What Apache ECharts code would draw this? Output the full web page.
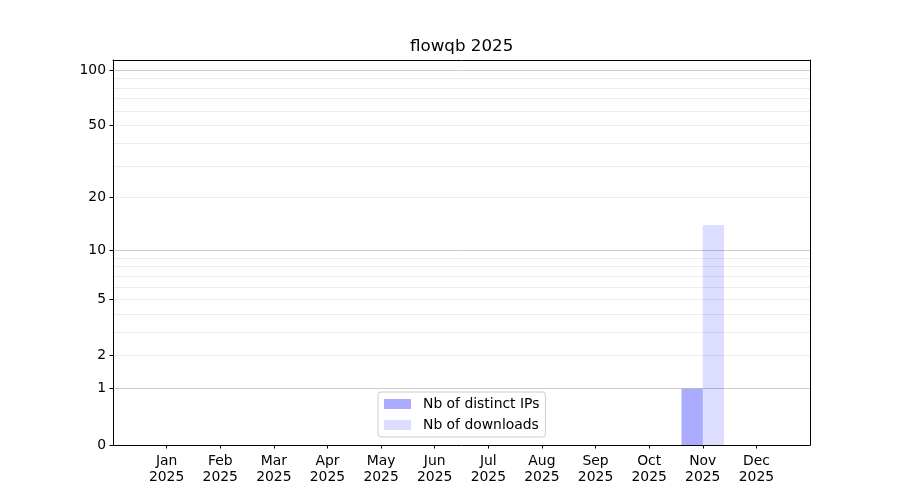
<!DOCTYPE html>
<html>
<head>
<meta charset="utf-8">
<script src="https://cdn.jsdelivr.net/npm/echarts@6/dist/echarts.min.js"></script>
<style>html,body{margin:0;padding:0;background:#fff}#c{width:900px;height:500px}</style>
</head>
<body>
<div id="c"></div>
<script>
const title = 'flowqb 2025';
const months = ['Jan','Feb','Mar','Apr','May','Jun','Jul','Aug','Sep','Oct','Nov','Dec'];
const yearLabel = '2025';
const ips = [0,0,0,0,0,0,0,0,0,0,1,0];
const downloads = [0,0,0,0,0,0,0,0,0,0,14,0];
const yTickValues = [0,1,2,5,10,20,50,100];
const majorGridValues = [1,10,100];
const minorGridValues = [2,3,4,5,6,7,8,9,20,30,40,50,60,70,80,90];
const yMaxRaw = 113.2;

const tf = v => Math.log10(1 + v);
const inv = t => Math.round(Math.pow(10, t) - 1);
const FONT = 'DejaVu Sans';
const yMax = tf(yMaxRaw);
const monthIdx = months.map((m, i) => i);

function hiddenY(vals, color, position, showLine) {
  return {
    type: 'value', min: 0, max: yMax, position: position,
    axisLine: {show: showLine, onZero: false, lineStyle: {color: '#000', width: 1}},
    axisLabel: {show: false},
    axisTick: {show: false, customValues: vals.map(tf)},
    splitLine: {show: true, lineStyle: {color: color, width: 1}}
  };
}

const chart = echarts.init(document.getElementById('c'), null, {renderer: 'canvas'});
chart.setOption({
  animation: false,
  backgroundColor: '#fff',
  textStyle: {fontFamily: FONT},
  title: {
    text: title, left: 410, top: 38, padding: 0,
    textStyle: {fontFamily: FONT, fontSize: 16.7, fontWeight: 'normal', color: '#000'}
  },
  grid: {left: 113, right: 90, top: 60, bottom: 55, show: false},
  legend: {
    orient: 'vertical', left: 378, top: 392,
    padding: [5, 6, 5, 6], itemGap: 7, itemWidth: 27, itemHeight: 10,
    icon: 'rect', borderColor: '#cccccc', borderWidth: 1, borderRadius: 3,
    backgroundColor: 'rgba(255,255,255,0.8)',
    textStyle: {fontFamily: FONT, fontSize: 13.9, color: '#000', lineHeight: 14, padding: [0, 0, 0, 7]},
    data: ['Nb of distinct IPs', 'Nb of downloads']
  },
  xAxis: [
    {
      type: 'value', min: -1, max: 12, interval: 1, position: 'bottom',
      axisLine: {show: true, onZero: false, lineStyle: {color: '#000', width: 1}},
      axisTick: {show: true, length: 3.5, customValues: monthIdx, lineStyle: {color: '#000'}},
      axisLabel: {
        customValues: monthIdx, margin: 9, color: '#000', fontFamily: FONT, fontSize: 13.9, lineHeight: 15.5,
        formatter: v => (months[v] !== undefined ? months[v] + '\n' + yearLabel : '')
      },
      splitLine: {show: false}
    },
    {
      type: 'value', min: -1, max: 12, interval: 1, position: 'top',
      axisLine: {show: true, onZero: false, lineStyle: {color: '#000', width: 1}},
      axisTick: {show: false}, axisLabel: {show: false}, splitLine: {show: false}
    }
  ],
  yAxis: [
    {
      type: 'value', min: 0, max: yMax, position: 'left',
      axisLine: {show: true, onZero: false, lineStyle: {color: '#000', width: 1}},
      axisTick: {show: true, length: 3.5, customValues: yTickValues.map(tf), lineStyle: {color: '#000'}},
      axisLabel: {customValues: yTickValues.map(tf), margin: 7, color: '#000', fontFamily: FONT, fontSize: 13.9,
        formatter: v => String(inv(v))},
      splitLine: {show: false}
    },
    hiddenY(minorGridValues, '#ececec', 'left', false),
    hiddenY(majorGridValues, '#cccccc', 'right', true)
  ],
  series: [
    {
      name: 'Nb of distinct IPs', type: 'bar', yAxisIndex: 0,
      barWidth: 21.3, barGap: '0%',
      itemStyle: {color: 'rgba(0,0,255,0.333)'},
      data: ips.map((v, i) => [i, tf(v)])
    },
    {
      name: 'Nb of downloads', type: 'bar', yAxisIndex: 0,
      barWidth: 21.3, barGap: '0%',
      itemStyle: {color: 'rgba(0,0,255,0.133)'},
      data: downloads.map((v, i) => [i, tf(v)])
    }
  ]
});
</script>
</body>
</html>
